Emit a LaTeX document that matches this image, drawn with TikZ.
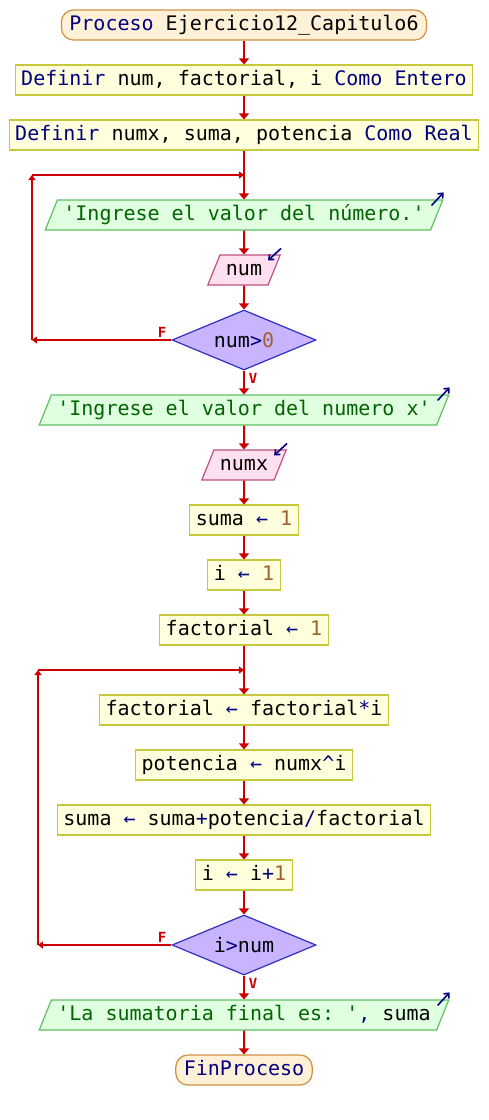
\documentclass[tikz,border=0pt]{standalone}
\usepackage{fontspec}
\setmonofont{DejaVu Sans Mono}
\usepackage{xcolor}
\usetikzlibrary{shapes.geometric,arrows.meta,positioning}

\definecolor{kwblue}{HTML}{000080}
\definecolor{strgreen}{HTML}{006400}
\definecolor{numbrown}{HTML}{A0622D}
\definecolor{flowred}{HTML}{CC0000}
\definecolor{procfill}{HTML}{FFFFDD}
\definecolor{procline}{HTML}{C8C83C}
\definecolor{outfill}{HTML}{E0FFE0}
\definecolor{outborder}{HTML}{60C060}
\definecolor{infill}{HTML}{FFE0F0}
\definecolor{inborder}{HTML}{C05080}
\definecolor{condfill}{HTML}{C8B4FF}
\definecolor{condline}{HTML}{3030C0}
\definecolor{termfill}{HTML}{FFF0D8}
\definecolor{termline}{HTML}{D09040}

\newcommand{\kw}[1]{\textcolor{kwblue}{#1}}
\newcommand{\opr}[1]{\textcolor{kwblue}{#1}}
\newcommand{\strg}[1]{\textcolor{strgreen}{#1}}
\newcommand{\numb}[1]{\textcolor{numbrown}{#1}}

\begin{document}
\begin{tikzpicture}[node distance=27.5pt, font=\ttfamily\fontsize{10}{12}\selectfont,
    base/.style={draw, line width=0.6pt, text height=7.5pt, text depth=2.5pt, inner xsep=3pt, inner ysep=2.5pt},
    term/.style={base, rectangle, rounded corners=6pt, fill=termfill, draw=termline, inner xsep=4pt},
    proc/.style={base, rectangle, fill=procfill, draw=procline},
    inp/.style={base, trapezium, trapezium left angle=68, trapezium right angle=112, fill=infill, draw=inborder},
    outp/.style={base, trapezium, trapezium left angle=68, trapezium right angle=112, fill=outfill, draw=outborder},
    cond/.style={diamond, shape aspect=2.4, draw=condline, fill=condfill, minimum width=72pt, minimum height=30pt, inner sep=0pt, line width=0.6pt},
    flow/.style={draw=flowred, line width=1pt, -{Triangle[length=3pt,width=5pt]}},
    back/.style={draw=flowred, line width=1pt, -{Triangle[length=2.5pt,width=3.5pt]}},
    lbl/.style={text=flowred, font=\ttfamily\bfseries\fontsize{7}{8}\selectfont, inner sep=1pt},
    iomark/.style={draw=kwblue, line width=0.8pt, -{Straight Barb[length=2pt,width=3.5pt]}}]

    \useasboundingbox (-122pt,12.5pt) rectangle (122pt,-547.5pt);

    \node (inicio) [term] at (0,0) {\kw{Proceso} Ejercicio12\_Capitulo6};
    \node (defent) [proc, below of=inicio] {\kw{Definir} num, factorial, i \kw{Como Entero}};
    \node (defreal) [proc, below of=defent] {\kw{Definir} numx, suma, potencia \kw{Como Real}};
    \node (msg1) [outp, below of=defreal, node distance=40pt] {\strg{'Ingrese el valor del número.'}};
    \node (leenum) [inp, below of=msg1] {num};
    \node (cond1) [cond, below of=leenum, node distance=35pt] {num\opr{>}\numb{0}};
    \node (msg2) [outp, below of=cond1, node distance=35pt] {\strg{'Ingrese el valor del numero x'}};
    \node (leex) [inp, below of=msg2] {numx};
    \node (sumaini) [proc, below of=leex] {suma \opr{←} \numb{1}};
    \node (iini) [proc, below of=sumaini] {i \opr{←} \numb{1}};
    \node (factini) [proc, below of=iini] {factorial \opr{←} \numb{1}};
    \node (factcalc) [proc, below of=factini, node distance=40pt] {factorial \opr{←} factorial\opr{*}i};
    \node (potcalc) [proc, below of=factcalc] {potencia \opr{←} numx\opr{\textasciicircum}i};
    \node (sumacalc) [proc, below of=potcalc] {suma \opr{←} suma\opr{+}potencia\opr{/}factorial};
    \node (iinc) [proc, below of=sumacalc] {i \opr{←} i\opr{+}\numb{1}};
    \node (cond2) [cond, below of=iinc, node distance=35pt] {i\opr{>}num};
    \node (msg3) [outp, below of=cond2, node distance=35pt] {\strg{'La sumatoria final es: '}\opr{,} suma};
    \node (fin) [term, below of=msg3] {\kw{FinProceso}};

    % puntos de los ciclos
    \coordinate (junta1) at (0pt,-75pt);
    \coordinate (izq1) at (-106pt,-75pt);
    \coordinate (junta2) at (0pt,-322.5pt);
    \coordinate (izq2) at (-103pt,-322.5pt);

    \draw[flow] (inicio) -- (defent);
    \draw[flow] (defent) -- (defreal);
    \draw[flow] (defreal) -- (msg1);
    \draw[flow] (msg1) -- (leenum);
    \draw[flow] (leenum) -- (cond1);
    \draw[back] (cond1.west) -- node[lbl, above left, pos=0, xshift=-1pt] {F} (cond1.west -| izq1);
    \draw[back] (cond1.west -| izq1) -- (izq1);
    \draw[back] (izq1) -- (junta1);
    \draw[flow] (cond1) -- node[lbl, below right, pos=0, xshift=1pt] {V} (msg2);
    \draw[flow] (msg2) -- (leex);
    \draw[flow] (leex) -- (sumaini);
    \draw[flow] (sumaini) -- (iini);
    \draw[flow] (iini) -- (factini);
    \draw[flow] (factini) -- (factcalc);
    \draw[flow] (factcalc) -- (potcalc);
    \draw[flow] (potcalc) -- (sumacalc);
    \draw[flow] (sumacalc) -- (iinc);
    \draw[flow] (iinc) -- (cond2);
    \draw[back] (cond2.west) -- node[lbl, above left, pos=0, xshift=-1pt] {F} (cond2.west -| izq2);
    \draw[back] (cond2.west -| izq2) -- (izq2);
    \draw[back] (izq2) -- (junta2);
    \draw[flow] (cond2) -- node[lbl, below right, pos=0, xshift=1pt] {V} (msg3);
    \draw[flow] (msg3) -- (fin);

    % marcas de entrada/salida
    \draw[iomark] ([shift={(-6pt,-3pt)}]msg1.top right corner) -- ++(6pt,6.5pt);
    \draw[iomark] ([shift={(-6pt,-3pt)}]msg2.top right corner) -- ++(6pt,6.5pt);
    \draw[iomark] ([shift={(-6pt,-3pt)}]msg3.top right corner) -- ++(6pt,6.5pt);
    \draw[iomark] ([shift={(0pt,3pt)}]leenum.top right corner) -- ++(-6.5pt,-6pt);
    \draw[iomark] ([shift={(0pt,3pt)}]leex.top right corner) -- ++(-6.5pt,-6pt);
\end{tikzpicture}
\end{document}
